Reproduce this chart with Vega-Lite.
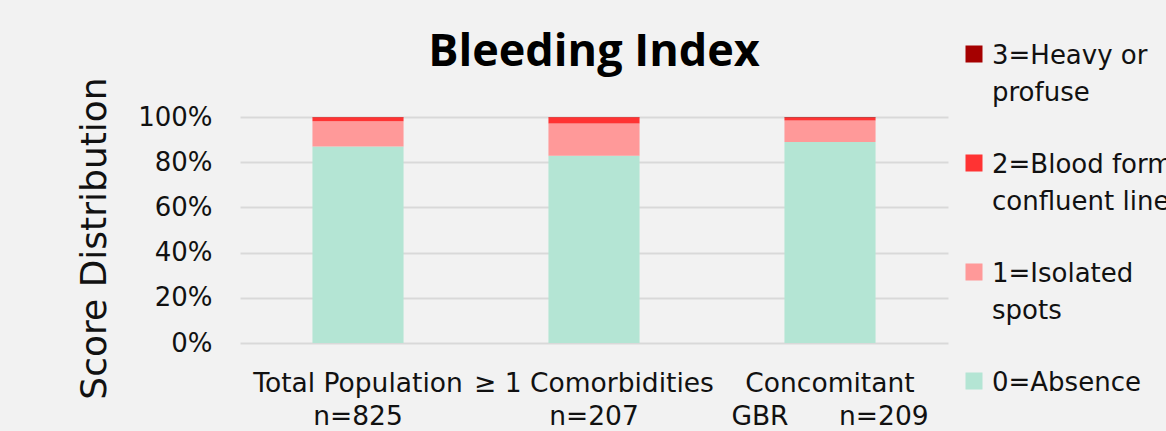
{
  "$schema": "https://vega.github.io/schema/vega-lite/v6.json",
  "autosize": "none",
  "width": 708,
  "height": 226,
  "padding": {"left": 240, "top": 117, "right": 218, "bottom": 88},
  "background": "#f2f2f2",
  "title": {
    "text": "Bleeding Index",
    "font": "Open Sans",
    "fontSize": 45,
    "fontWeight": "bold",
    "color": "#000000",
    "anchor": "middle",
    "baseline": "alphabetic",
    "offset": 0,
    "dy": 70
  },
  "config": {
    "view": {"stroke": null},
    "font": "DejaVu Sans",
    "axis": {"labelFont": "DejaVu Sans", "titleFont": "DejaVu Sans"},
    "legend": {"labelFont": "DejaVu Sans"}
  },
  "data": {
    "values": [
      {"group": "Total Population|n=825", "score": 0, "label": "0=Absence", "share": 0.869},
      {"group": "Total Population|n=825", "score": 1, "label": "1=Isolated spots", "share": 0.112},
      {"group": "Total Population|n=825", "score": 2, "label": "2=Blood forms confluent lines", "share": 0.018},
      {"group": "Total Population|n=825", "score": 3, "label": "3=Heavy or profuse", "share": 0.001},
      {"group": "≥ 1 Comorbidities|n=207", "score": 0, "label": "0=Absence", "share": 0.829},
      {"group": "≥ 1 Comorbidities|n=207", "score": 1, "label": "1=Isolated spots", "share": 0.142},
      {"group": "≥ 1 Comorbidities|n=207", "score": 2, "label": "2=Blood forms confluent lines", "share": 0.028},
      {"group": "≥ 1 Comorbidities|n=207", "score": 3, "label": "3=Heavy or profuse", "share": 0.001},
      {"group": "Concomitant|GBR\u00a0\u00a0\u00a0\u00a0\u00a0\u00a0n=209", "score": 0, "label": "0=Absence", "share": 0.889},
      {"group": "Concomitant|GBR\u00a0\u00a0\u00a0\u00a0\u00a0\u00a0n=209", "score": 1, "label": "1=Isolated spots", "share": 0.096},
      {"group": "Concomitant|GBR\u00a0\u00a0\u00a0\u00a0\u00a0\u00a0n=209", "score": 2, "label": "2=Blood forms confluent lines", "share": 0.013},
      {"group": "Concomitant|GBR\u00a0\u00a0\u00a0\u00a0\u00a0\u00a0n=209", "score": 3, "label": "3=Heavy or profuse", "share": 0.002}
    ]
  },
  "mark": {"type": "bar"},
  "encoding": {
    "x": {
      "field": "group",
      "type": "nominal",
      "sort": null,
      "scale": {"paddingInner": 0.614, "paddingOuter": 0.307},
      "axis": {
        "title": null,
        "labelAngle": 0,
        "domain": false,
        "ticks": false,
        "labelFontSize": 26.5,
        "labelColor": "#111111",
        "labelPadding": 27,
        "labelLineHeight": 33,
        "labelLimit": 400,
        "labelExpr": "split(datum.label, '|')"
      }
    },
    "y": {
      "field": "share",
      "type": "quantitative",
      "stack": "zero",
      "scale": {"domain": [0, 1], "nice": false},
      "axis": {
        "title": "Score Distribution",
        "titleFontSize": 36,
        "titleFontWeight": "normal",
        "titleColor": "#111111",
        "titlePadding": 24,
        "titleY": 121,
        "values": [0, 0.2, 0.4, 0.6, 0.8, 1],
        "format": ".0%",
        "domain": false,
        "ticks": false,
        "labelFontSize": 26,
        "labelColor": "#111111",
        "labelPadding": 28,
        "gridColor": "#d9d9d9",
        "gridWidth": 2
      }
    },
    "color": {
      "field": "label",
      "type": "nominal",
      "scale": {
        "domain": ["3=Heavy or profuse", "2=Blood forms confluent lines", "1=Isolated spots", "0=Absence"],
        "range": ["#a50000", "#ff3333", "#ff9999", "#b4e5d4"]
      },
      "legend": {
        "title": null,
        "orient": "none",
        "legendX": 721,
        "legendY": -76,
        "symbolType": "square",
        "symbolSize": 289,
        "symbolStrokeWidth": 0,
        "labelFontSize": 26,
        "labelColor": "#111111",
        "labelOffset": 5,
        "labelLimit": 400,
        "labelBaseline": "alphabetic",
        "rowPadding": 44,
        "labelExpr": "datum.label == '3=Heavy or profuse' ? ['3=Heavy or', 'profuse'] : datum.label == '2=Blood forms confluent lines' ? ['2=Blood forms', 'confluent lines'] : datum.label == '1=Isolated spots' ? ['1=Isolated', 'spots'] : datum.label",
        "encode": {
          "labels": {"update": {"dy": {"value": 10}, "lineHeight": {"value": 37}}}
        }
      }
    },
    "order": {"field": "score", "type": "quantitative", "sort": "ascending"}
  }
}
